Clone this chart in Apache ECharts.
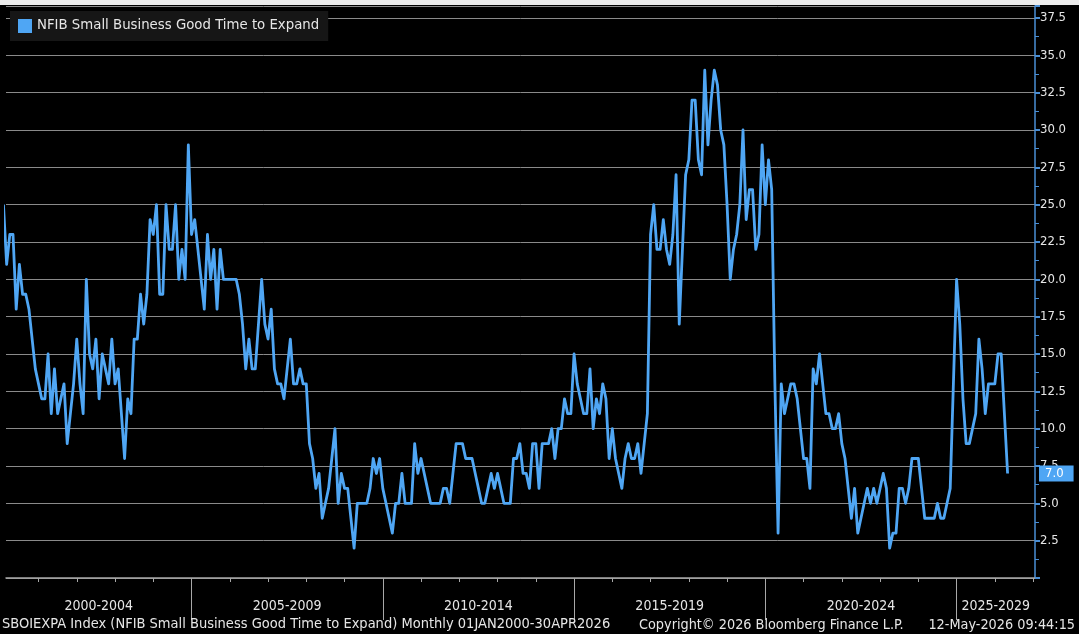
<!DOCTYPE html>
<html><head><meta charset="utf-8">
<script src="https://cdn.jsdelivr.net/npm/echarts@6/dist/echarts.min.js"></script>
<style>
html,body{margin:0;padding:0;background:#000;overflow:hidden;}
#c{width:1079px;height:634px;}
#band{position:absolute;left:0;top:0;width:1079px;height:5px;background:#ececec;}
</style>
</head><body><div id="c"></div><div id="band"></div>
<script>
// ---- data (monthly, % of owners, Jan 2000 .. Apr 2026) ----
const seriesName = 'NFIB Small Business Good Time to Expand';
const firstYear = 2000;
const y2000 = [25, 21, 23, 23, 18, 21, 19, 19, 18, 16, 14, 13];
const y2001 = [12, 12, 15, 11, 14, 11, 12, 13, 9, 11, 13, 16];
const y2002 = [13, 11, 20, 15, 14, 16, 12, 15, 14, 13, 16, 13];
const y2003 = [14, 11, 8, 12, 11, 16, 16, 19, 17, 19, 24, 23];
const y2004 = [25, 19, 19, 25, 22, 22, 25, 20, 22, 20, 29, 23];
const y2005 = [24, 22, 20, 18, 23, 20, 22, 18, 22, 20, 20, 20];
const y2006 = [20, 20, 19, 17, 14, 16, 14, 14, 17, 20, 17, 16];
const y2007 = [18, 14, 13, 13, 12, 14, 16, 13, 13, 14, 13, 13];
const y2008 = [9, 8, 6, 7, 4, 5, 6, 8, 10, 5, 7, 6];
const y2009 = [6, 4, 2, 5, 5, 5, 5, 6, 8, 7, 8, 6];
const y2010 = [5, 4, 3, 5, 5, 7, 5, 5, 5, 9, 7, 8];
const y2011 = [7, 6, 5, 5, 5, 5, 6, 6, 5, 7, 9, 9];
const y2012 = [9, 8, 8, 8, 7, 6, 5, 5, 6, 7, 6, 7];
const y2013 = [6, 5, 5, 5, 8, 8, 9, 7, 7, 6, 9, 9];
const y2014 = [6, 9, 9, 9, 10, 8, 10, 10, 12, 11, 11, 15];
const y2015 = [13, 12, 11, 11, 14, 10, 12, 11, 13, 12, 8, 10];
const y2016 = [8, 7, 6, 8, 9, 8, 8, 9, 7, 9, 11, 23];
const y2017 = [25, 22, 22, 24, 22, 21, 23, 27, 17, 22, 27, 28];
const y2018 = [32, 32, 28, 27, 34, 29, 32, 34, 33, 30, 29, 25];
const y2019 = [20, 22, 23, 25, 30, 24, 26, 26, 22, 23, 29, 25];
const y2020 = [28, 26, 13, 3, 13, 11, 12, 13, 13, 12, 10, 8];
const y2021 = [8, 6, 14, 13, 15, 13, 11, 11, 10, 10, 11, 9];
const y2022 = [8, 6, 4, 6, 3, 4, 5, 6, 5, 6, 5, 6];
const y2023 = [7, 6, 2, 3, 3, 6, 6, 5, 6, 8, 8, 8];
const y2024 = [6, 4, 4, 4, 4, 5, 4, 4, 5, 6, 13, 20];
const y2025 = [17, 12, 9, 9, 10, 11, 16, 14, 11, 13, 13, 13];
const y2026 = [15, 15, 11, 7];

const periodLabels = ['2000-2004', '2005-2009', '2010-2014', '2015-2019', '2020-2024', '2025-2029'];
const footerLeft = 'SBOIEXPA Index (NFIB Small Business Good Time to Expand) Monthly 01JAN2000-30APR2026';
const footerMid = 'Copyright\u00A9 2026 Bloomberg Finance L.P.';
const footerRight = '12-May-2026 09:44:15';

const values = [].concat(y2000, y2001, y2002, y2003, y2004, y2005, y2006, y2007, y2008, y2009,
  y2010, y2011, y2012, y2013, y2014, y2015, y2016, y2017, y2018, y2019, y2020, y2021, y2022,
  y2023, y2024, y2025, y2026);

// x in months since Jan 2000; each monthly observation plotted at month end
const data = values.map((v, i) => [i + 1, v]);
const X_MIN = 1.8, X_MAX = 324.6;
const yearTicks = [];
for (let k = 1; k <= 27; k++) { if (k * 12 < X_MAX && k % 5 !== 0) yearTicks.push(k * 12); }
const periodBounds = [];
for (let k = 1; k < periodLabels.length; k++) periodBounds.push(k * 60);
const periodCenters = periodLabels.map((l, k) => {
  const a = Math.max(X_MIN, k * 60), b = Math.min(X_MAX, (k + 1) * 60);
  return (a + b) / 2;
});
const lastValue = values[values.length - 1];

const lineBlue = '#4fa6f4';
const condFont = "'DejaVu Sans Condensed','Liberation Sans Narrow','DejaVu Sans',sans-serif";

const chart = echarts.init(document.getElementById('c'), null, {renderer: 'canvas'});
chart.setOption({
  backgroundColor: '#000',
  animation: false,
  grid: {left: 6, right: 44, top: 6, bottom: 56, containLabel: false},
  legend: {
    data: [seriesName], left: 10, top: 11, icon: 'rect', itemWidth: 14, itemHeight: 14,
    padding: [8, 9, 8, 8], backgroundColor: '#161616', selectedMode: false,
    textStyle: {color: '#e6e6e6', fontSize: 13.3, fontFamily: "'DejaVu Sans',sans-serif"}
  },
  title: [
    {text: footerLeft, left: 2, bottom: 0, textStyle: {color: '#e6e6e6', fontSize: 14.5, fontWeight: 'normal', fontFamily: condFont}, padding: [0, 0, 2, 0]},
    {text: footerMid, left: 639, bottom: 0, textStyle: {color: '#e6e6e6', fontSize: 14.3, fontWeight: 'normal', fontFamily: condFont}, padding: [0, 0, 2, 0]},
    {text: footerRight, right: 4, bottom: 0, textStyle: {color: '#e6e6e6', fontSize: 14.3, fontWeight: 'normal', fontFamily: condFont}, padding: [0, 0, 2, 0]}
  ],
  xAxis: [
    {
      type: 'value', min: X_MIN, max: X_MAX, position: 'bottom',
      axisLine: {show: true, lineStyle: {color: '#a8a8a8', width: 1.5}},
      axisTick: {show: true, customValues: yearTicks, length: 4, lineStyle: {color: '#a8a8a8', width: 1}},
      minorTick: {show: false},
      axisLabel: {show: false}, splitLine: {show: false}
    },
    {
      type: 'value', min: X_MIN, max: X_MAX, position: 'bottom', gridIndex: 0,
      axisLine: {show: false},
      axisTick: {show: true, customValues: periodBounds, length: 42, lineStyle: {color: '#a8a8a8', width: 1}},
      minorTick: {show: false},
      axisLabel: {
        show: true, customValues: periodCenters, margin: 21, color: '#e6e6e6', fontSize: 14,
        fontFamily: condFont,
        formatter: (v) => {
          let best = 0, d = 1e9;
          periodCenters.forEach((c, i) => { if (Math.abs(c - v) < d) { d = Math.abs(c - v); best = i; } });
          return periodLabels[best];
        }
      },
      splitLine: {show: false}
    }
  ],
  yAxis: {
    type: 'value', position: 'right', min: 0, max: 38.3, interval: 2.5,
    axisLine: {show: true, lineStyle: {color: '#4a8fd6', width: 1.5}},
    axisTick: {show: true, length: 5, lineStyle: {color: '#4a8fd6', width: 2}},
    minorTick: {show: true, splitNumber: 2, length: 4, lineStyle: {color: '#4a8fd6', width: 1}},
    axisLabel: {
      show: true, margin: 5, color: '#e6e6e6', fontSize: 13, fontFamily: condFont,
      showMaxLabel: false, showMinLabel: false,
      formatter: (v) => v.toFixed(1)
    },
    splitLine: {show: true, lineStyle: {color: '#8a8a8a', width: 1}}
  },
  series: [{
    name: seriesName, type: 'line', data: data, showSymbol: false, symbol: 'none',
    xAxisIndex: 0, clip: true,
    lineStyle: {color: lineBlue, width: 2.8, join: 'round'},
    itemStyle: {color: lineBlue},
    emphasis: {disabled: true},
    markLine: {
      silent: true, symbol: 'none', animation: false,
      lineStyle: {color: 'rgba(0,0,0,0)', width: 1, type: 'solid'},
      label: {
        show: true, position: 'end', distance: 4,
        formatter: () => lastValue.toFixed(1),
        backgroundColor: lineBlue, color: '#ffffff', fontSize: 13, fontFamily: condFont,
        padding: [2, 10, 1, 6]
      },
      data: [{yAxis: lastValue}]
    }
  }]
});
</script>
</body></html>
